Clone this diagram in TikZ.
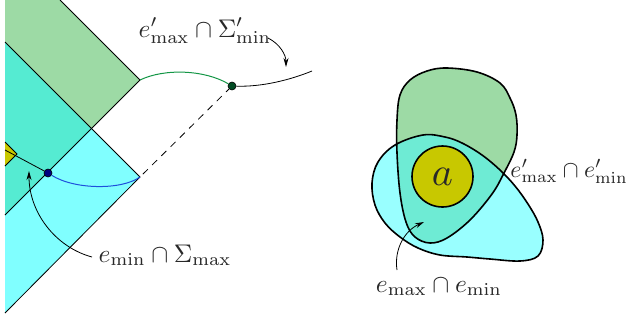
\documentclass[tikz,border=0pt]{standalone}
\usetikzlibrary{arrows.meta}
\definecolor{fgreen}{RGB}{157,218,165}
\definecolor{fcyan}{RGB}{128,255,255}
\definecolor{fteal}{RGB}{85,235,210}
\definecolor{fyellow}{RGB}{200,200,0}
\definecolor{rcyan}{RGB}{153,255,255}
\definecolor{rteal}{RGB}{110,235,212}
\definecolor{cblue}{RGB}{30,80,220}
\definecolor{cgreen}{RGB}{20,150,70}
\definecolor{dblue}{RGB}{0,0,128}
\definecolor{dgreen}{RGB}{0,75,35}
\definecolor{txt}{RGB}{40,40,40}
\tikzset{
  thin line/.style={line width=0.8pt, draw=black},
  blob/.style={line width=1.6pt, draw=black},
  lbl/.style={inner sep=0pt, scale=2.55, transform shape, text=txt},
  pointer/.style={line width=0.8pt, draw=black, -{Stealth[length=9pt,width=5pt]}},
  dot/.style={circle, draw=black, line width=0.6pt, minimum size=8pt, inner sep=0pt},
}
\begin{document}
\begin{tikzpicture}[x=1pt,y=-1pt]
\useasboundingbox (0,0) rectangle (631,322);
% ---- left figure: fills
\coordinate (gtl) at (5,0);
\coordinate (gtr) at (60,0);
\coordinate (gr) at (140,80);
\coordinate (gb) at (5,215);
\coordinate (ct) at (5,42);
\coordinate (cr) at (140,177);
\coordinate (cb) at (5,313);
\coordinate (x) at (91.5,128.5);
\fill[fgreen] (gtl) -- (gtr) -- (gr) -- (gb) -- cycle;
\fill[fcyan] (ct) -- (cr) -- (cb) -- cycle;
\fill[fteal] (ct) -- (x) -- (gb) -- cycle;
\draw[thin line] (gtr) -- (gr) -- (gb);
\draw[thin line] (ct) -- (cr) -- (cb);
% yellow diamond
\filldraw[fill=fyellow, thin line] (5,142) -- (17,154) -- (5,166);
% dots and curves
\node[dot, fill=dblue] (bd) at (48,173) {};
\node[dot, fill=dgreen] (gd) at (232,86) {};
\coordinate (le) at (5,150);
\coordinate (re) at (312,71);
\draw[thin line] (le) -- (bd);
\draw[line width=1pt, cblue] (bd) .. controls (75,190) and (122,190) .. (cr);
\draw[line width=1pt, cgreen] (gr) .. controls (165,68) and (205,70) .. (gd);
\draw[thin line] (gd) .. controls (262,87) and (290,80) .. (re);
\draw[thin line, dash pattern=on 7pt off 6pt, dash phase=-4pt] (cr) -- (gd);
% labels left
\node[lbl, anchor=base] (l1) at (205,37) {$e'_{\max}\cap\Sigma'_{\min}$};
\node[lbl, anchor=base] (l2) at (165,262) {$e_{\min}\cap\Sigma_{\max}$};
\coordinate (a1s) at (268,38);
\coordinate (a1e) at (286,67);
\draw[pointer] (a1s) .. controls (280,44) and (286,55) .. (a1e);
\coordinate (a2s) at (92,257);
\coordinate (a2e) at (29,171);
\draw[pointer] (a2s) .. controls (55,247) and (29,212) .. (a2e);
% ---- right figure
\def\greenblob{plot[smooth cycle, tension=0.6] coordinates {(447,68) (477,72) (500,83) (510,98) (516,115) (517,135) (514,152) (504,173) (492,194) (470,220) (447,238) (430,243) (415,237) (406,222) (400,193) (397,153) (397,120) (400,95) (410,80) (427,71)}}
\def\cyanblob{plot[smooth cycle, tension=0.6] coordinates {(423,135) (445,137) (462,143) (482,155) (500,170) (515,186) (528,204) (538,222) (543,240) (538,256) (520,261) (490,259) (467,257) (440,255) (418,248) (400,237) (385,223) (375,205) (372,183) (378,162) (395,145)}}
\fill[rcyan] \cyanblob;
\fill[fgreen] \greenblob;
\begin{scope}
\clip \cyanblob;
\fill[rteal] \greenblob;
\end{scope}
\draw[blob] \cyanblob;
\draw[blob] \greenblob;
\node[circle, draw=black, line width=1.6pt, fill=fyellow, minimum size=61pt, inner sep=0pt] (a) at (442.5,176.5) {};
\node[scale=4, transform shape, inner sep=0pt, text=txt] (alab) at (a.center) {$a$};
\node[lbl, scale=0.93, anchor=base west] (l3) at (510,177) {$e'_{\max}\cap e'_{\min}$};
\node[lbl, anchor=base] (l4) at (439,292) {$e_{\max}\cap e_{\min}$};
\coordinate (a3s) at (397,270);
\coordinate (a3e) at (424,222);
\draw[pointer] (a3s) .. controls (394,250) and (404,231) .. (a3e);
\end{tikzpicture}
\end{document}
